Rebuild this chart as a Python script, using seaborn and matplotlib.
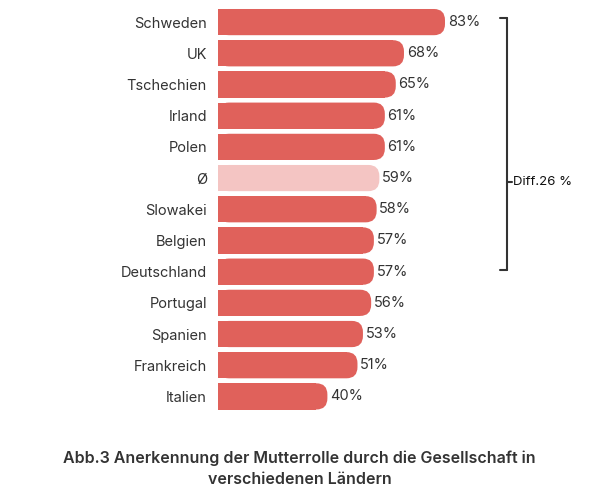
import pandas as pd
import matplotlib
matplotlib.use('Agg')
import matplotlib.pyplot as plt
import seaborn as sns
from matplotlib.patches import FancyBboxPatch, Rectangle

countries = ['Schweden', 'UK', 'Tschechien', 'Irland', 'Polen', 'Ø', 'Slowakei',
             'Belgien', 'Deutschland', 'Portugal', 'Spanien', 'Frankreich', 'Italien']
values = [83, 68, 65, 61, 61, 59, 58, 57, 57, 56, 53, 51, 40]
colors = ['#E0615B' if c != 'Ø' else '#F4C5C3' for c in countries]

df = pd.DataFrame({'land': countries, 'wert': values})

sns.set_style('white')
plt.rcParams['font.family'] = ['Inter', 'DejaVu Sans']

fig = plt.figure(figsize=(5.99, 5.0), dpi=100)
ax = fig.add_axes([218 / 599, 0.176, 273.5 / 599, 0.811])
sns.barplot(data=df, x='wert', y='land', hue='land', palette=colors,
            legend=False, width=0.84, ax=ax)
ax.set_xlim(0, 100)
ax.set_ylim(12.5, -0.5)

# replace square bars by bars rounded at the right end
for p, col in zip(list(ax.patches), colors):
    x0, y0, w, h = p.get_x(), p.get_y(), p.get_width(), p.get_height()
    p.set_visible(False)
    r = 4.0
    ax.add_patch(FancyBboxPatch((x0, y0), w, h,
                                boxstyle=f'round,pad=0,rounding_size={r}',
                                mutation_aspect=0.09, fc=col, ec='none'))
    ax.add_patch(Rectangle((x0, y0), w - r, h, fc=col, ec='none'))

for i, v in enumerate(values):
    ax.text(v + 1.0, i, f'{v}%', va='center', ha='left', fontsize=10.5, color='#333333')

ax.set_xlabel('')
ax.set_ylabel('')
ax.set_xticks([])
ax.tick_params(axis='y', length=0, labelsize=10.5, labelcolor='#333333', pad=8)
sns.despine(ax=ax, left=True, bottom=True)

# bracket
bx, ytop, ybot, ymid = 105.5, -0.13, 7.95, 5.13
kw = dict(color='#333333', lw=1.5, clip_on=False)
ax.plot([bx, bx], [ytop, ybot], **kw)
ax.plot([bx - 2.5, bx], [ytop, ytop], **kw)
ax.plot([bx - 2.5, bx], [ybot, ybot], **kw)
ax.plot([bx, bx + 2.0], [ymid, ymid], **kw)
ax.text(bx + 2.4, ymid, 'Diff.26 %', va='center', ha='left', fontsize=9.5,
        color='#111111', clip_on=False)

fig.text(0.5, 0.084, 'Abb.3 Anerkennung der Mutterrolle durch die Gesellschaft in',
         ha='center', va='center', fontsize=11.5, fontweight='semibold', color='#333333')
fig.text(0.5, 0.04, 'verschiedenen Ländern',
         ha='center', va='center', fontsize=11.5, fontweight='semibold', color='#333333')

fig.savefig('out.png', dpi=100)
